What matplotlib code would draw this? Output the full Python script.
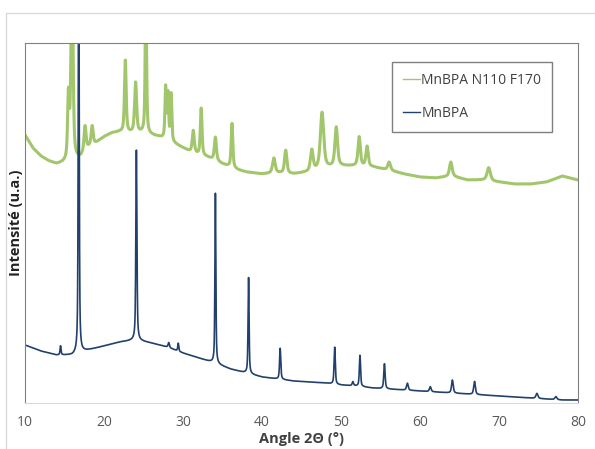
import numpy as np
import matplotlib.pyplot as plt
from matplotlib.patches import Rectangle

plt.rcParams['font.family'] = ['Open Sans', 'DejaVu Sans']

# background lines (angle, intensity)
blue_base_x = [10, 12, 14, 16, 17.5, 20, 22, 24, 26, 28, 30, 32, 34, 36, 38, 40, 42, 44, 46,
               48, 50, 52, 54, 56, 58, 60, 62, 64, 66, 68, 70, 72, 74, 76, 78, 80]
blue_base_y = [58, 52, 48, 48, 52, 57, 61, 63, 60, 56, 50, 45, 40, 34, 30, 26, 24, 22, 21,
               20, 18, 17, 15, 14, 13, 12, 11, 10, 9, 8, 7, 6, 5, 4, 3, 3]
green_base_x = [10, 11, 12, 13, 14, 15, 16, 17, 18, 19, 20, 21, 22, 23, 24, 25, 26, 27, 28, 29,
                30, 31, 32, 33, 34, 35, 36, 37, 38, 40, 42, 44, 46, 48, 50, 52, 54, 56, 58,
                60, 62, 64, 66, 68, 70, 72, 74, 76, 78, 80]
green_base_y = [268, 255, 247, 242, 239, 240, 241, 245, 255, 260, 266, 270, 271, 270, 270, 270,
                268, 266, 263, 259, 255, 251, 248, 246, 243, 239, 236, 233, 231, 229, 230, 229,
                231, 235, 237, 237, 236, 233, 229, 226, 225, 227, 223, 223, 221, 219, 219, 221,
                227, 223]

# peaks: position, height above background, width
blue_pos = [14.5, 16.8, 24.1, 28.2, 29.4, 34.1, 38.3, 42.3, 49.2, 51.5, 52.4, 55.5, 58.4,
            61.3, 64.1, 66.9, 74.8, 77.2]
blue_h = [9, 430, 190, 5, 8, 170, 96, 31, 37, 4, 31, 25, 7, 5, 13, 13, 5, 3]
blue_w = [0.15, 0.14, 0.16, 0.2, 0.15, 0.14, 0.15, 0.18, 0.18, 0.2, 0.18, 0.2, 0.25,
          0.25, 0.25, 0.25, 0.3, 0.3]

green_pos = [15.5, 15.95, 17.6, 18.5, 22.7, 24.0, 25.3, 27.8, 28.1, 28.5, 31.3, 32.3, 34.1,
             36.2, 41.5, 43.0, 46.3, 47.6, 49.4, 52.3, 53.3, 56.1, 63.9, 68.7]
green_h = [63, 200, 25, 19, 72, 50, 150, 51, 45, 47, 22, 47, 23, 44, 15, 23, 21, 56, 39, 29,
           20, 8, 14, 13]
green_w = [0.25, 0.3, 0.3, 0.3, 0.25, 0.3, 0.2, 0.2, 0.2, 0.2, 0.3, 0.25, 0.3, 0.25, 0.4,
           0.35, 0.4, 0.5, 0.4, 0.35, 0.35, 0.4, 0.4, 0.5]

labels = ['MnBPA N110 F170', 'MnBPA']
xticks = [10, 20, 30, 40, 50, 60, 70, 80]


def pattern(x, bx, by, pos, h, w):
    y = np.interp(x, bx, by)
    for p, a, g in zip(pos, h, w):
        y = y + a * (0.6 / (1 + ((x - p) / (g / 2)) ** 2)
                     + 0.4 * np.exp(-4 * np.log(2) * ((x - p) / g) ** 2))
    return y


x = np.arange(10, 80.001, 0.01)
y_green = pattern(x, green_base_x, green_base_y, green_pos, green_h, green_w)
y_blue = pattern(x, blue_base_x, blue_base_y, blue_pos, blue_h, blue_w)

fig = plt.figure(figsize=(5.95, 4.49), dpi=100)
# outer chart frame
fig.patches.append(Rectangle((6 / 595, -0.1), 1.2, 1.1 - 13 / 449,
                             transform=fig.transFigure, fill=False,
                             edgecolor='#DADADA', lw=1))
ax = fig.add_axes([25 / 595, 1 - 403 / 449, 553 / 595, 360 / 449])

ax.plot(x, y_green, color='#A2C66C', lw=2.2, label=labels[0])
ax.plot(x, y_blue, color='#22406E', lw=1.2, label=labels[1])

ax.set_xlim(10, 80)
ax.set_ylim(0, 360)
ax.set_xticks(xticks)
ax.set_yticks([])
ax.tick_params(axis='x', length=0, pad=9, labelsize=10, labelcolor='#595959')
for s in ['top', 'left', 'right']:
    ax.spines[s].set_color('#808080')
ax.spines['bottom'].set_color('#D9D9D9')

ax.set_xlabel('Angle 2Θ (°)', fontsize=10.5, fontweight='bold', color='#404040', labelpad=1)
ax.set_ylabel('Intensité (u.a.)', fontsize=10.5, fontweight='bold', color='#222222')
ax.yaxis.set_label_coords(-0.004, 0.5)

leg = ax.legend(loc='upper left', bbox_to_anchor=(0.664, 0.947), fontsize=10,
                frameon=True, fancybox=False, edgecolor='#7F7F7F', framealpha=1,
                handlelength=1.2, handletextpad=0.1, labelspacing=1.3, borderpad=0.8,
                borderaxespad=0)
leg.get_frame().set_linewidth(1)
for t in leg.get_texts():
    t.set_color('#404040')
for l in leg.get_lines():
    l.set_linewidth(1.0)

fig.savefig('out.png', dpi=100)
